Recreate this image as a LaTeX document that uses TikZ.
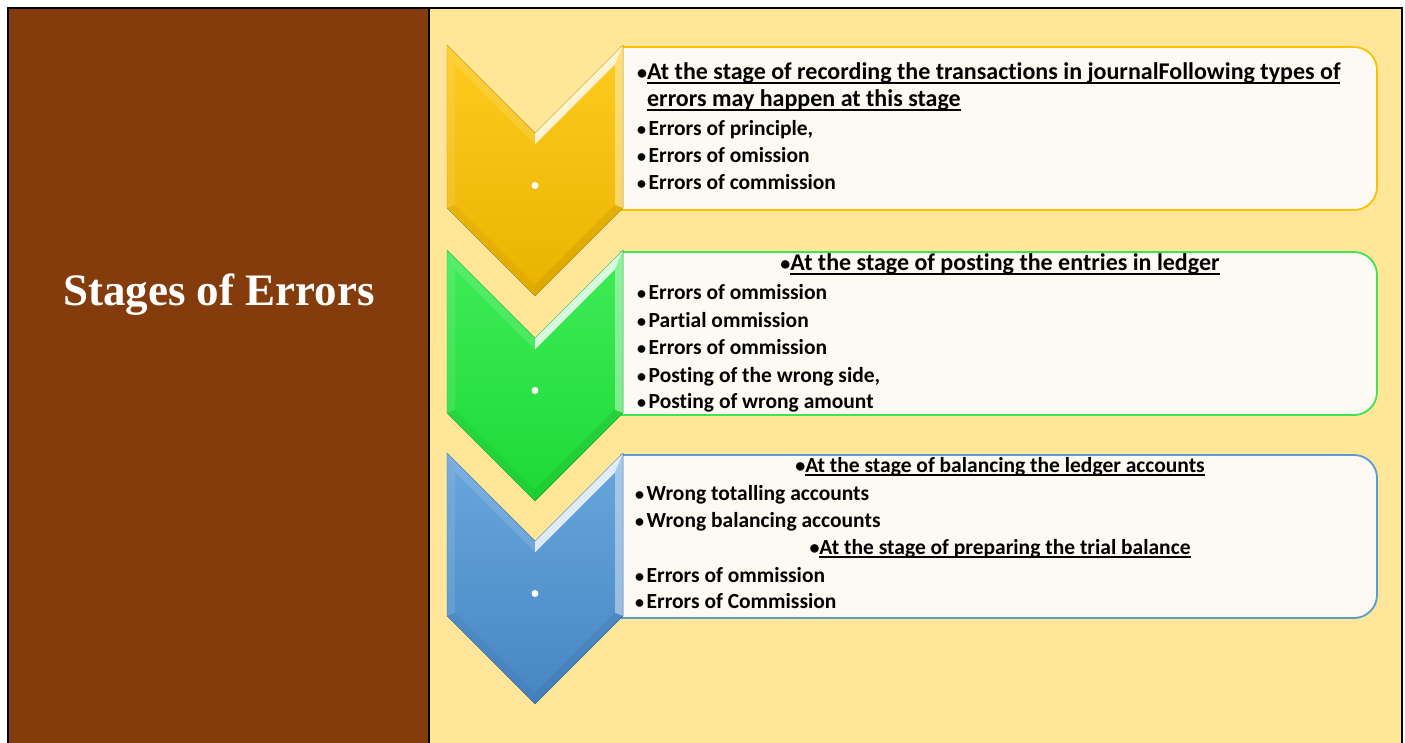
\documentclass[tikz,border=0pt]{standalone}
\usepackage{fontspec}
\setmainfont{Carlito}[Ligatures=NoCommon]
\newfontfamily\titlefont{Liberation Serif}
\definecolor{brownbg}{HTML}{843C0C}
\definecolor{yelbg}{HTML}{FFE699}
\definecolor{boxfill}{HTML}{FDFAF3}
\definecolor{ytop}{HTML}{FFCB1F}
\definecolor{ybot}{HTML}{E9B300}
\definecolor{gtop}{HTML}{40EC58}
\definecolor{gbot}{HTML}{1CD936}
\definecolor{btop}{HTML}{69A6DC}
\definecolor{bbot}{HTML}{4786C4}
\definecolor{yedge}{HTML}{FFC000}
\definecolor{gedge}{HTML}{3FE354}
\definecolor{bedge}{HTML}{5B9BD5}
\newcommand\uline[1]{\setbox0=\hbox{#1}\rlap{\rule[-3.6pt]{\wd0}{1.8pt}}\box0}
\newcommand\itb{{\fontsize{18}{18}\selectfont •}\hspace{2.5pt}}
\newcommand\hdb{{\fontsize{20}{20}\selectfont •}}
\newcommand\stagebox[2]{%
\begin{scope}[yshift=#1]
\draw[line width=1.8pt, draw=#2, fill=boxfill] (621,47) -- (1354,47) .. controls (1366.7,47) and (1377,57.3) .. (1377,70) -- (1377,187) .. controls (1377,199.7) and (1366.7,210) .. (1354,210) -- (621,210) -- cycle;
\end{scope}}
\newcommand\stagechev[3]{%
\begin{scope}[yshift=#1]
\fill[top color=#2, bottom color=#3] (447,45) -- (535,133) -- (623,45) -- (623,208) -- (535,296) -- (447,208) -- cycle;
\fill[white, opacity=0.8] (535,133) -- (623,45) -- (615,64.3) -- (535,144.3) -- cycle;
\fill[white, opacity=0.4] (623,45) -- (623,208) -- (615,204.7) -- (615,64.3) -- cycle;
\fill[white, opacity=0.12] (447,45) -- (535,133) -- (535,144.3) -- (455,64.3) -- cycle;
\fill[white, opacity=0.1] (447,45) -- (455,64.3) -- (455,204.7) -- (447,208) -- cycle;
\fill[black, opacity=0.04] (447,208) -- (535,296) -- (535,284.7) -- (455,204.7) -- cycle;
\fill[black, opacity=0.06] (623,208) -- (535,296) -- (535,284.7) -- (615,204.7) -- cycle;
\draw[#3!90!black, line width=0.6pt, opacity=0.4] (447,45) -- (535,133) -- (623,45) -- (623,208) -- (535,296) -- (447,208) -- cycle;
\fill[white] (535,185.5) circle (3.5);
\end{scope}}
\tikzset{txt/.style={font=\fontsize{21.5}{25}\selectfont\bfseries, anchor=base west, inner sep=0pt, text=black},
  headl/.style={txt, font=\fontsize{24}{27}\selectfont\bfseries},
  head/.style={headl, anchor=base},
  heads/.style={txt, anchor=base}}
\begin{document}
\begin{tikzpicture}[x=1pt,y=-1pt]
\useasboundingbox (0,0) rectangle (1405,743);
\fill[white] (0,0) rectangle (1405,743);
\fill[brownbg] (8,8) rectangle (429,743);
\fill[yelbg] (429,8) rectangle (1402,743);
\draw[line width=2.2pt] (8,743) -- (8,8) -- (1402,8) -- (1402,743);
\draw[line width=2.2pt] (429,8) -- (429,743);
\node[font=\titlefont\bfseries\fontsize{45}{50}\selectfont, text=white] (title) at (219,295) {Stages of Errors};
% boxes
\stagebox{0pt}{yedge}
\stagebox{-205pt}{gedge}
\stagebox{-408pt}{bedge}
% chevrons
\stagechev{0pt}{ytop}{ybot}
\stagechev{-205pt}{gtop}{gbot}
\stagechev{-408pt}{btop}{bbot}
% yellow text
\node[headl] (y1) at (637,80) {\hdb\uline{At the stage of recording the transactions in journalFollowing types of}};
\node[headl] (y2) at (637,107) {\phantom{\hdb}\uline{errors may happen at this stage}};
\node[txt] (y3) at (637,136) {\itb Errors of principle,};
\node[txt] (y4) at (637,163) {\itb Errors of omission};
\node[txt] (y5) at (637,190) {\itb Errors of commission};
% green text
\node[head] (g0) at (1000,271) {\hdb\uline{At the stage of posting the entries in ledger}};
\node[txt] (g1) at (637,299) {\itb Errors of ommission};
\node[txt] (g2) at (637,327) {\itb Partial ommission};
\node[txt] (g3) at (637,354) {\itb Errors of ommission};
\node[txt] (g4) at (637,382) {\itb Posting of the wrong side,};
\node[txt] (g5) at (637,408) {\itb Posting of wrong amount};
% blue text
\node[heads] (b0) at (1000,472) {\hdb\uline{At the stage of balancing the ledger accounts}};
\node[txt] (b1) at (635,500) {\itb Wrong totalling accounts};
\node[txt] (b2) at (635,527) {\itb Wrong balancing accounts};
\node[heads] (b3) at (1000,554) {\hdb\uline{At the stage of preparing the trial balance}};
\node[txt] (b4) at (635,582) {\itb Errors of ommission};
\node[txt] (b5) at (635,608) {\itb Errors of Commission};
\end{tikzpicture}
\end{document}
